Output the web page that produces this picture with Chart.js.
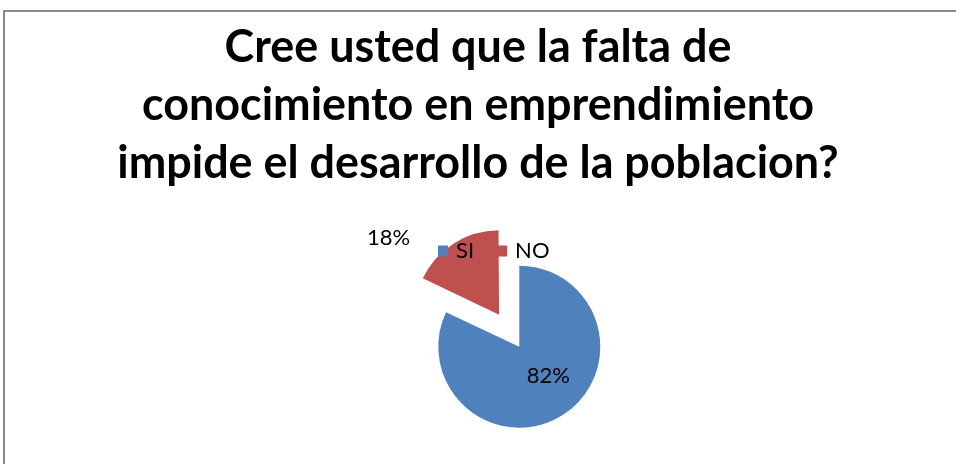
<!DOCTYPE html>
<html>
<head>
<meta charset="utf-8">
<script src="https://cdn.jsdelivr.net/npm/chart.js@4/dist/chart.umd.min.js"></script>
<style>
  html, body { margin: 0; padding: 0; background: #ffffff; }
  #wrap { position: relative; width: 956px; height: 464px; overflow: hidden; }
  #frame { position: absolute; left: 3px; top: 10px; width: 980px; height: 480px;
           border-left: 2px solid #8a8a8a; border-top: 2px solid #8a8a8a; }
  #c { position: absolute; left: 0; top: 0; }
</style>
</head>
<body>
<div id="wrap">
  <div id="frame"></div>
  <canvas id="c" width="956" height="464"></canvas>
</div>
<script>
// ---- data ----
const titleLines = ['Cree usted que la falta de', 'conocimiento en emprendimiento', 'impide el desarrollo de la poblacion?'];
const categories = ['SI', 'NO'];
const values = [82, 18];
const colors = ['#4F81BD', '#C0504D'];

// ---- fit title font (Calibri substitute) to the reference line width ----
const FONT = 'Lato, "Open Sans", "DejaVu Sans", sans-serif';
const mctx = document.createElement('canvas').getContext('2d');
mctx.font = 'bold 100px ' + FONT;
const titleSize = Math.round(100 * 722 / mctx.measureText(titleLines[2]).width * 10) / 10;

const PIE_CX = 519.3, PIE_CY = 346.7, PIE_R = 81;

const placeChart = {
  id: 'placeChart',
  afterLayout(chart) {
    chart.chartArea = {
      left: PIE_CX - PIE_R, right: PIE_CX + PIE_R,
      top: PIE_CY - PIE_R, bottom: PIE_CY + PIE_R,
      width: 2 * PIE_R, height: 2 * PIE_R
    };
  }
};

const sliceLabels = {
  id: 'sliceLabels',
  afterDatasetsDraw(chart, args, opts) {
    const ctx = chart.ctx;
    const meta = chart.getDatasetMeta(0);
    const data = chart.data.datasets[0].data;
    const total = data.reduce((a, b) => a + b, 0);
    ctx.save();
    ctx.font = opts.size + 'px ' + FONT;
    ctx.fillStyle = '#000';
    ctx.textAlign = 'center';
    ctx.textBaseline = 'middle';
    meta.data.forEach((arc, i) => {
      const p = arc.getProps(['x', 'y', 'startAngle', 'endAngle', 'outerRadius', 'circumference']);
      const mid = (p.startAngle + p.endAngle) / 2;
      const off = (arc.options.offset || 0) / 4;
      const fix = 1 - Math.sin(Math.min(Math.PI, p.circumference || 0));
      const t = off * (1 + fix);
      const cx = p.x + Math.cos(mid) * t;
      const cy = p.y + Math.sin(mid) * t;
      const place = opts.place[i];
      const a = mid + place.turn * Math.PI / 180;
      const d = p.outerRadius * place.dist;
      const txt = Math.round(data[i] / total * 100) + '%';
      ctx.fillText(txt, cx + Math.cos(a) * d, cy + Math.sin(a) * d);
    });
    ctx.restore();
  }
};

const overlayLegend = {
  id: 'overlayLegend',
  afterDraw(chart, args, opts) {
    const ctx = chart.ctx;
    const ds = chart.data.datasets[0];
    ctx.save();
    ctx.font = opts.size + 'px ' + FONT;
    ctx.textBaseline = 'middle';
    ctx.textAlign = 'left';
    let x = opts.x;
    chart.data.labels.forEach((lab, i) => {
      ctx.fillStyle = ds.backgroundColor[i];
      ctx.fillRect(x, opts.y - opts.boxH / 2, opts.boxW, opts.boxH);
      x += opts.boxW + opts.gap;
      ctx.fillStyle = '#000';
      ctx.fillText(lab, x, opts.y);
      x += ctx.measureText(lab).width + opts.itemGap;
    });
    ctx.restore();
  }
};

new Chart(document.getElementById('c'), {
  type: 'pie',
  data: {
    labels: categories,
    datasets: [{
      data: values,
      backgroundColor: colors,
      borderWidth: 0,
      offset: [0, 151],
      hoverOffset: 0,
      clip: false
    }]
  },
  options: {
    responsive: false,
    animation: false,
    devicePixelRatio: 1,
    events: [],
    radius: PIE_R,
    layout: { padding: 0 },
    plugins: {
      legend: { display: false },
      tooltip: { enabled: false },
      title: {
        display: true,
        text: titleLines,
        color: '#000000',
        font: { family: FONT, weight: 'bold', size: titleSize, lineHeight: '58px' },
        padding: { top: 19, bottom: 0 }
      },
      sliceLabels: { size: 22, place: [{ dist: 0.505, turn: -12.6 }, { dist: 1.62, turn: -23.5 }] },
      overlayLegend: { x: 438, y: 251, boxW: 10, boxH: 11, gap: 8, itemGap: 23, size: 22 }
    }
  },
  plugins: [placeChart, sliceLabels, overlayLegend]
});
</script>
</body>
</html>
